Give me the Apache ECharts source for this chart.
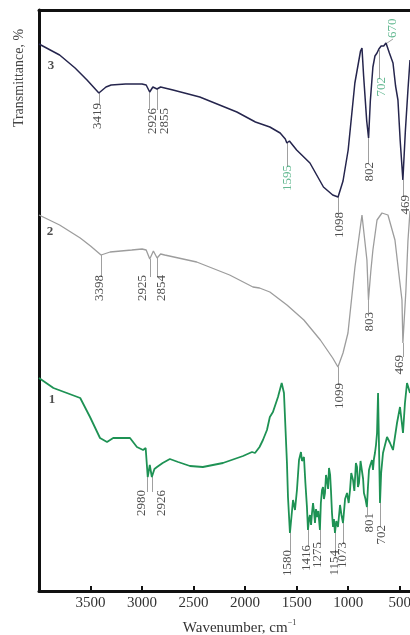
<!DOCTYPE html>
<html><head><meta charset="utf-8">
<script src="https://cdn.jsdelivr.net/npm/echarts@6/dist/echarts.min.js"></script>
<style>html,body{margin:0;padding:0;background:#fff}#c{width:410px;height:635px}</style>
</head><body><div id="c"></div>
<script>
// x ticks (wavenumber, cm-1)
const xTicks = [500, 1000, 1500, 2000, 2500, 3000, 3500];

// Curve 3 (top, dark)
const wn3 = [4000,3800,3650,3534,3419,3350,3300,3160,3000,2960,2926,2895,2855,2820,2700,2440,2080,1900,1760,1660,1610,1595,1570,1500,1371,1240,1150,1098,1050,1000,935,880,866,850,820,802,785,760,740,720,702,695,680,670,655,633,600,565,540,517,495,469,445,420,400];
const t3  = [547,536,523,511,498,504,506,507,507,506,499,504,502,504,501,494,479,469,464,458,452,448,450,441,428,404,396,394,410,441,508,540,543,515,470,453,490,524,535,538,542,540,545,546,545,548,538,528,505,491,450,411,460,501,531];

// Curve 2 (middle, gray)
const wn2 = [4000,3800,3600,3500,3398,3310,3100,3000,2960,2925,2890,2854,2820,2780,2470,2150,1924,1860,1760,1594,1430,1270,1150,1099,1050,1002,934,866,818,803,780,760,720,672,614,546,500,478,469,440,420,400];
const t2  = [376,366,353,345,336,339,341,342,341,332,340,333,337,336,329,316,304,303,299,286,271,251,233,224,238,258,324,376,331,291,320,341,371,378,376,351,310,291,248,300,350,380];

// Curve 1 (bottom, green)
const wn1 = [4000,3860,3600,3505,3408,3340,3280,3150,3117,3050,
  2990,2965,2945,2925,2905,2880,2855,2800,2730,2650,
  2535,2410,2215,2020,1933,1904,1860,1827,1788,1760,
  1730,1681,1645,1623,1594,1584,1565,1535,1516,1497,
  1477,1458,1448,1438,1429,1415,1400,1390,1380,1371,
  1360,1351,1341,1332,1322,1312,1303,1290,1274,1265,
  1254,1244,1235,1225,1215,1206,1195,1186,1175,1167,
  1157,1147,1138,1128,1115,1099,1090,1079,1065,1050,
  1030,1011,995,982,970,953,940,925,914,905,
  895,880,866,855,847,832,818,808,798,785,
  769,759,750,740,730,720,710,691,680,662,
  623,594,565,526,497,468,449,429,400];
const t1 = [213,203,193,174,153,149,153,153,153,144,
  141,143,114,126,114,122,124,128,132,129,
  125,124,128,135,139,138,144,151,161,174,
  179,194,208,198,128,94,58,91,81,101,
  131,139,130,128,134,108,84,61,72,76,
  66,78,88,80,68,82,74,80,61,88,
  101,104,92,98,116,111,102,123,116,101,
  78,64,72,58,70,64,74,86,76,68,
  92,98,88,101,118,111,100,128,124,104,
  108,130,128,112,98,92,84,104,121,126,
  131,121,132,138,146,158,198,88,118,138,
  154,148,141,168,184,158,188,208,198];

// Peak annotations: [text, curve wn, curve T, label wn, label edge T]
const peaks3 = [['3419',3419,498,3430,488],['2926',2926,499,2900,483],['2855',2855,502,2785,483],['1595',1595,448,1585,426],['1098',1098,394,1085,379],['802',802,453,790,429],['469',469,411,440,396],['702',702,541,675,514],['670',650,546,565,553]];
const peaks2 = [['3398',3398,336,3408,316],['2925',2925,332,2991,316],['2854',2854,333,2807,316],['1099',1099,224,1079,208],['803',803,291,788,279],['469',469,248,497,236]];
const peaks1 = [['2980',2945,114,3001,101],['2926',2905,114,2807,101],['1580',1565,58,1584,41],['1416',1390,61,1400,46],['1275',1274,61,1293,49],['1154',1128,58,1128,41],['1073',1050,68,1050,49],['801',818,84,788,78],['702',691,88,672,66]];
const greenLabels3 = ['1595','702','670'];

// Curve numbers: [text, wn, T]
const curveNames = [['3',3884,525],['2',3893,359],['1',3874,191]];

const serif = 'Liberation Serif';
const pairs = (w, t) => w.map((x, i) => [x, t[i]]);

const allPeaks = [];
peaks3.forEach(p => allPeaks.push({p, green: greenLabels3.includes(p[0])}));
peaks2.forEach(p => allPeaks.push({p, green: false}));
peaks1.forEach(p => allPeaks.push({p, green: false}));

const labelData = allPeaks.map(({p, green}) => {
  const above = p[4] > p[2];
  return {
    name: p[0], value: [p[3], p[4]],
    label: {color: green ? '#3da877' : '#222', align: above ? 'left' : 'right'}
  };
});
// leader lines: vertical from the curve down to label level (slanted when the label sits above)
const leaderData = allPeaks.map(({p}) => {
  const above = p[4] > p[2];
  return {coords: above ? [[p[1], p[2]], [p[3], p[4] - 1]] : [[p[1], p[2]], [p[1], p[4] - 2]]};
});

const chart = echarts.init(document.getElementById('c'), null, {renderer: 'canvas'});
chart.setOption({
  animation: false,
  backgroundColor: '#fff',
  grid: {left: 39, right: 0, top: 10, bottom: 44, containLabel: false, outerBoundsMode: 'none'},
  xAxis: [{
    type: 'value', min: 400, max: 4000, inverse: true, position: 'bottom',
    axisLine: {show: true, onZero: false, lineStyle: {color: '#111', width: 3}},
    axisTick: {show: true, inside: true, length: 5, customValues: xTicks, lineStyle: {color: '#111', width: 2}},
    axisLabel: {show: true, customValues: xTicks, formatter: v => String(v), fontFamily: serif, fontSize: 15, color: '#333', margin: 5, hideOverlap: false},
    splitLine: {show: false},
    name: 'Wavenumber, cm{sup|−1}', nameLocation: 'middle', nameGap: 28,
    nameTextStyle: {fontFamily: serif, fontSize: 15, color: '#333', padding: [0, 0, 0, 30],
      rich: {sup: {fontFamily: serif, fontSize: 8, color: '#333', padding: [0, 0, 10, 0]}}}
  }, {
    type: 'value', min: 400, max: 4000, inverse: true, position: 'top',
    axisLine: {show: true, onZero: false, lineStyle: {color: '#111', width: 3}},
    axisTick: {show: false}, axisLabel: {show: false}, splitLine: {show: false}
  }],
  yAxis: {
    type: 'value', min: 0, max: 581,
    axisLine: {show: true, onZero: false, lineStyle: {color: '#111', width: 3}},
    axisTick: {show: false}, axisLabel: {show: false}, splitLine: {show: false}
  },
  graphic: [{
    type: 'text', x: 19, y: 78, rotation: Math.PI / 2,
    style: {text: 'Transmittance, %', font: '14px "Liberation Serif"', fill: '#444', align: 'center', verticalAlign: 'middle'}
  }],
  series: [
    {type: 'line', data: pairs(wn3, t3), showSymbol: false, lineStyle: {color: '#25254d', width: 1.5}},
    {type: 'line', data: pairs(wn2, t2), showSymbol: false, lineStyle: {color: '#9d9d9d', width: 1.3}},
    {type: 'line', data: pairs(wn1, t1), showSymbol: false, lineStyle: {color: '#1e9254', width: 1.8}},
    {type: 'lines', coordinateSystem: 'cartesian2d', polyline: false, silent: true, data: leaderData,
      lineStyle: {color: '#888', width: 0.8, opacity: 1}, symbol: 'none'},
    {type: 'scatter', symbolSize: 0, silent: true, data: labelData,
      label: {show: true, formatter: '{b}', rotate: 90, position: 'inside', verticalAlign: 'middle',
        fontFamily: serif, fontSize: 13}},
    {type: 'scatter', symbolSize: 0, silent: true,
      data: curveNames.map(c => ({name: c[0], value: [c[1], c[2]]})),
      label: {show: true, formatter: '{b}', position: 'inside', fontFamily: serif, fontSize: 13, fontWeight: 'bold', color: '#222'}}
  ]
});
</script></body></html>
